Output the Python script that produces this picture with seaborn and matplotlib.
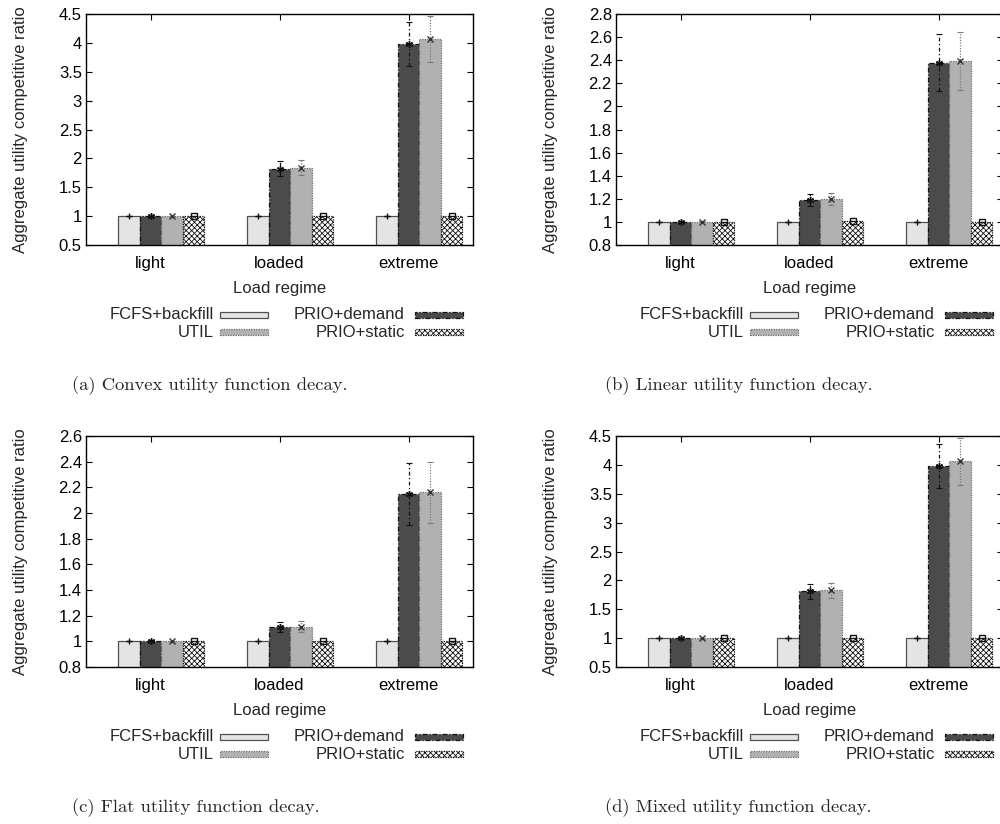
import matplotlib
matplotlib.use("Agg")
import matplotlib.pyplot as plt
from matplotlib.patches import Rectangle
from matplotlib.ticker import FormatStrFormatter, MultipleLocator
import pandas as pd
import seaborn as sns

# ---- data -------------------------------------------------------------
regimes = ["light", "loaded", "extreme"]
policies = ["FCFS+backfill", "PRIO+demand", "UTIL", "PRIO+static"]

# mean competitive ratio: one row per policy, one column per load regime
convex_ratio = [[1.00, 1.00, 1.00], [1.00, 1.82, 3.98], [1.00, 1.84, 4.07], [1.00, 1.01, 1.00]]
convex_err = [[0.0, 0.0, 0.0], [0.01, 0.13, 0.38], [0.01, 0.13, 0.40], [0.0, 0.0, 0.0]]

linear_ratio = [[1.00, 1.00, 1.00], [1.00, 1.19, 2.38], [1.00, 1.196, 2.39], [1.00, 1.01, 1.00]]
linear_err = [[0.0, 0.0, 0.0], [0.005, 0.05, 0.245], [0.005, 0.05, 0.25], [0.0, 0.0, 0.0]]

flat_ratio = [[1.00, 1.00, 1.00], [1.00, 1.11, 2.15], [1.00, 1.115, 2.16], [1.00, 1.005, 1.00]]
flat_err = [[0.0, 0.0, 0.0], [0.005, 0.04, 0.24], [0.005, 0.04, 0.24], [0.0, 0.0, 0.0]]

mixed_ratio = [[1.00, 1.00, 1.00], [1.00, 1.81, 3.98], [1.00, 1.83, 4.06], [1.00, 1.01, 1.00]]
mixed_err = [[0.0, 0.0, 0.0], [0.01, 0.13, 0.38], [0.01, 0.13, 0.40], [0.0, 0.0, 0.0]]

captions = ["(a) Convex utility function decay.", "(b) Linear utility function decay.",
            "(c) Flat utility function decay.", "(d) Mixed utility function decay."]

# ---- style --------------------------------------------------------------
sns.set_theme(style="ticks")
plt.rcParams["font.family"] = ["Liberation Sans", "DejaVu Sans"]
plt.rcParams["hatch.linewidth"] = 0.6

FS = 12
fills = ["#e4e4e4", "#4b4b4b", "#b1b1b1", "#ffffff"]
edges = ["#505050", "#111111", "#6e6e6e", "#111111"]
edge_styles = ["-", (0, (4, 1.5, 1, 1.5)), (0, (1, 1)), (0, (1, 1))]
hatches = [None, None, None, "xxxxxx"]
markers = ["+", (6, 2, 0), "x", "s"]
marker_colors = ["#111111", "#111111", "#333333", "#111111"]
err_styles = [(0, (2, 2)), (0, (3, 2, 1, 2)), (0, (1, 1.2)), (0, (1, 1))]
err_colors = ["#111111", "#111111", "#7a7a7a", "#111111"]

W, H = 1000, 824
fig = plt.figure(figsize=(W / 100, H / 100), dpi=100)


def px_axes(left, top, width=387, height=231):
    return fig.add_axes([left / W, 1 - (top + height) / H, width / W, height / H])


panels = [
    (convex_ratio, convex_err, (0.5, 4.5), 0.5, 86, 14),
    (linear_ratio, linear_err, (0.8, 2.8), 0.2, 616, 14),
    (flat_ratio, flat_err, (0.8, 2.6), 0.2, 86, 436),
    (mixed_ratio, mixed_err, (0.5, 4.5), 0.5, 616, 436),
]
caption_pos = [(72, 386), (605, 386), (72, 808), (605, 808)]

for idx, (ratio, err, ylim, step, left, top) in enumerate(panels):
    ax = px_axes(left, top)
    rows = []
    for p, pol in enumerate(policies):
        for r, reg in enumerate(regimes):
            rows.append({"regime": reg, "policy": pol, "ratio": ratio[p][r], "err": err[p][r]})
    df = pd.DataFrame(rows)

    sns.barplot(data=df, x="regime", y="ratio", hue="policy", order=regimes,
                hue_order=policies, palette=fills, saturation=1, width=4 / 6, gap=0,
                errorbar=None, legend=False, ax=ax)

    bar_groups = list(ax.containers)
    for p, cont in enumerate(bar_groups):
        sub = df[df.policy == policies[p]].set_index("regime").loc[regimes]
        xs = []
        for bar in cont:
            bar.set_edgecolor(edges[p])
            bar.set_linewidth(0.9)
            bar.set_linestyle(edge_styles[p])
            if hatches[p]:
                bar.set_hatch(hatches[p])
            xs.append(bar.get_x() + bar.get_width() / 2)
        _, caps, bars = ax.errorbar(xs, sub["ratio"], yerr=sub["err"], fmt="none",
                                    ecolor=err_colors[p], elinewidth=0.9, capsize=2,
                                    capthick=0.8, zorder=4)
        for b in bars:
            b.set_linestyle(err_styles[p])
        ax.plot(xs, sub["ratio"], linestyle="none", marker=markers[p], markersize=5,
                markeredgewidth=1.0, color=marker_colors[p],
                markerfacecolor="none" if markers[p] == "s" else marker_colors[p], zorder=5)

    shift = 1 / 12
    ax.set_xlim(-0.5 - shift, len(regimes) - 0.5 - shift)
    ax.set_xticks([i - shift for i in range(len(regimes))])
    ax.set_xticklabels(regimes)
    ax.set_ylim(*ylim)
    ax.yaxis.set_major_locator(MultipleLocator(step))
    ax.yaxis.set_major_formatter(FormatStrFormatter("%g"))
    ax.tick_params(axis="both", which="major", direction="in", length=4, width=0.8,
                   top=True, right=True, labelsize=FS, colors="black")
    ax.tick_params(axis="y", pad=3)
    ax.tick_params(axis="x", pad=8)
    for s in ax.spines.values():
        s.set_visible(True)
        s.set_linewidth(1.0)
        s.set_color("black")
    ax.set_xlabel("Load regime", fontsize=FS, labelpad=7)
    ax.set_ylabel("Aggregate utility competitive ratio", fontsize=FS)
    ax.yaxis.set_label_coords(-0.149, 0.5)

    # key below the axes: label right-justified before its sample box
    key_x = [(0.331, 0.346), (0.824, 0.850)]
    key_y = [-0.303, -0.377]
    for p, pol in enumerate(policies):
        col, row = p % 2, p // 2
        tx, bx = key_x[col]
        ty = key_y[row]
        ax.text(tx, ty, pol, transform=ax.transAxes, ha="right", va="center",
                fontsize=FS, clip_on=False)
        rect = Rectangle((bx, ty - 0.014), 0.124, 0.028, transform=ax.transAxes,
                         facecolor=fills[p], edgecolor=edges[p], linewidth=0.9,
                         linestyle=edge_styles[p], hatch=hatches[p], clip_on=False)
        ax.add_patch(rect)

    cx, cy = caption_pos[idx]
    fig.text(cx / W, 1 - cy / H, captions[idx], ha="left", va="center",
             fontsize=13.4, family="cmr10")

fig.savefig("out.png", dpi=100)
